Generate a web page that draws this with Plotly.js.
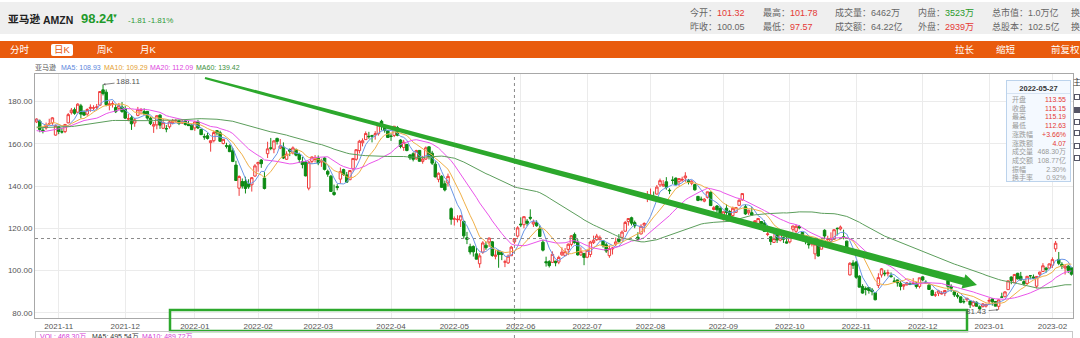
<!DOCTYPE html>
<html><head><meta charset="utf-8">
<script src="https://cdn.plot.ly/plotly-3.0.1.min.js"></script>
<style>
html,body{margin:0;padding:0;background:#fff;width:1080px;height:338px;overflow:hidden;font-family:"Liberation Sans",Arial,"Noto Sans CJK SC",sans-serif;}
#chart{position:absolute;left:0;top:0;width:1080px;height:338px;}
.a{position:absolute;white-space:nowrap;line-height:1;}
#hdr{position:absolute;left:0;top:2px;width:1080px;height:32px;background:#efefef;}
#bar{position:absolute;left:0;top:41px;width:1080px;height:17px;background:#e95b0d;}
.w{color:#fff;font-size:9.5px;}
.s{font-size:9px;color:#666;}
.lg{font-size:7px;}
#tip{position:absolute;left:1006px;top:80px;width:65px;height:102px;border:1px solid #bcd3ec;background:rgba(244,249,255,0.96);box-sizing:border-box;}
#tip .t{position:absolute;left:0;top:3px;width:63px;text-align:center;font-size:7.5px;font-weight:bold;color:#333;}
#tip .ln{position:absolute;left:0;top:12px;width:63px;height:1px;background:#d6e3f2;}
#tip .r{position:absolute;left:5px;width:54px;font-size:7px;line-height:1;}
#tip .r span{position:absolute;right:0;top:0;}
.cb{position:absolute;left:1074px;width:6px;height:6px;border:1px solid #556;box-sizing:border-box;background:#fff;}
</style></head>
<body>
<div id="chart"></div>

<div id="hdr"></div>
<div class="a" style="left:8px;top:14px;font-size:10.7px;font-weight:bold;color:#222;">亚马逊</div>
<div class="a" style="left:43px;top:15px;font-size:10.5px;font-weight:bold;color:#222;">AMZN</div>
<div class="a" style="left:81px;top:12px;font-size:13px;font-weight:bold;color:#1f9a2a;">98.24</div>
<div class="a" style="left:112px;top:13px;font-size:6px;color:#1f9a2a;">▼</div>
<div class="a" style="left:128px;top:17px;font-size:8px;color:#2f9a3a;">-1.81</div>
<div class="a" style="left:148px;top:17px;font-size:8px;color:#2f9a3a;">-1.81%</div>

<div class="a s" style="left:690px;top:9px;">今开：<span style="color:#e53935">101.32</span></div>
<div class="a s" style="left:690px;top:23px;">昨收：100.05</div>
<div class="a s" style="left:763px;top:9px;">最高：<span style="color:#e53935">101.78</span></div>
<div class="a s" style="left:763px;top:23px;">最低：<span style="color:#e53935">97.57</span></div>
<div class="a s" style="left:835px;top:9px;">成交量：6462万</div>
<div class="a s" style="left:835px;top:23px;">成交额：64.22亿</div>
<div class="a s" style="left:918px;top:9px;">内盘：<span style="color:#2a9a2a">3523万</span></div>
<div class="a s" style="left:918px;top:23px;">外盘：<span style="color:#e53935">2939万</span></div>
<div class="a s" style="left:992px;top:9px;">总市值：1.0万亿</div>
<div class="a s" style="left:992px;top:23px;">总股本：102.5亿</div>
<div class="a s" style="left:1071px;top:9px;">换</div>
<div class="a s" style="left:1071px;top:23px;">换</div>

<div id="bar"></div>
<div class="a w" style="left:10px;top:45px;">分时</div>
<div class="a" style="left:51px;top:44px;width:22px;height:12px;background:#fff;border-radius:2px;"></div>
<div class="a" style="left:54px;top:45px;font-size:9.5px;color:#e95b0d;">日K</div>
<div class="a w" style="left:97px;top:45px;">周K</div>
<div class="a w" style="left:140px;top:45px;">月K</div>
<div class="a w" style="left:955px;top:45px;">拉长</div>
<div class="a w" style="left:996px;top:45px;">缩短</div>
<div class="a w" style="left:1051px;top:45px;">前复权</div>

<div class="a lg" style="left:35px;top:64px;color:#555;">亚马逊</div>
<div class="a lg" style="left:61px;top:64px;color:#5b86dc;">MA5: 108.93</div>
<div class="a lg" style="left:104px;top:64px;color:#e4a030;">MA10: 109.29</div>
<div class="a lg" style="left:150px;top:64px;color:#dd44dd;">MA20: 112.09</div>
<div class="a lg" style="left:196px;top:64px;color:#3d8f3d;">MA60: 139.42</div>

<div id="tip"></div>

<div class="a" style="left:1073px;top:79px;font-size:8px;color:#333;">主</div>
<div class="cb" style="top:94px;"></div>
<div class="cb" style="top:107px;background:#556;"></div>
<div class="cb" style="top:119px;"></div>
<div class="cb" style="top:130px;"></div>
<div class="cb" style="top:143px;"></div>
<div class="cb" style="top:155px;"></div>

<div class="a" style="left:35px;top:331px;width:1038px;height:12px;border:1px solid #c8c8c8;box-sizing:border-box;"></div>
<div class="a" style="left:40px;top:333px;font-size:7px;color:#d63cd6;">VOL: 468.30万</div>
<div class="a" style="left:92px;top:333px;font-size:7px;color:#333;">MA5: 495.54万</div>
<div class="a" style="left:142px;top:333px;font-size:7px;color:#d63cd6;">MA10: 489.72万</div>

<script>
// ---- data ----
const monthDays = {
  "2021-10":[21,22,25,26,27,28,29],
  "2021-11":[1,2,3,4,5,8,9,10,11,12,15,16,17,18,19,22,23,24,26,29,30],
  "2021-12":[1,2,3,6,7,8,9,10,13,14,15,16,17,20,21,22,23,27,28,29,30,31],
  "2022-01":[3,4,5,6,7,10,11,12,13,14,18,19,20,21,24,25,26,27,28,31],
  "2022-02":[1,2,3,4,7,8,9,10,11,14,15,16,17,18,22,23,24,25,28],
  "2022-03":[1,2,3,4,7,8,9,10,11,14,15,16,17,18,21,22,23,24,25,28,29,30,31],
  "2022-04":[1,4,5,6,7,8,11,12,13,14,18,19,20,21,22,25,26,27,28,29],
  "2022-05":[2,3,4,5,6,9,10,11,12,13,16,17,18,19,20,23,24,25,26,27,31],
  "2022-06":[1,2,3,6,7,8,9,10,13,14,15,16,17,21,22,23,24,27,28,29,30],
  "2022-07":[1,5,6,7,8,11,12,13,14,15,18,19,20,21,22,25,26,27,28,29],
  "2022-08":[1,2,3,4,5,8,9,10,11,12,15,16,17,18,19,22,23,24,25,26,29,30,31],
  "2022-09":[1,2,6,7,8,9,12,13,14,15,16,19,20,21,22,23,26,27,28,29,30],
  "2022-10":[3,4,5,6,7,10,11,12,13,14,17,18,19,20,21,24,25,26,27,28,31],
  "2022-11":[1,2,3,4,7,8,9,10,11,14,15,16,17,18,21,22,23,25,28,29,30],
  "2022-12":[1,2,5,6,7,8,9,12,13,14,15,16,19,20,21,22,23,27,28,29,30],
  "2023-01":[3,4,5,6,9,10,11,12,13,17,18,19,20,23,24,25,26,27,30,31],
  "2023-02":[1,2,3,6,7,8,9]
};

// closes before the first visible day (for the moving averages)
const priorClose = [
  180.00,166.38,
  166.57,168.31,168.80,168.76,167.25,167.09,166.03,164.61,165.18,164.70,164.80,162.10,160.06,159.39,160.00,163.29,165.29,164.96,165.80,167.48,171.08,173.54,
  173.95,173.16,173.90,175.46,176.28,174.21,173.46,172.86,172.50,173.79,174.41,173.13,167.79,167.18,169.00,170.80,171.28,170.29,165.80,165.06,164.25,
  164.16,159.49,161.05,163.10,165.12,164.43,162.32,162.37,164.21,164.99,170.45,172.34,172.21,170.75
];

const open = [
  170.40,170.80,166.50,167.50,169.45,169.90,164.15,
  168.10,165.75,165.80,169.95,174.80,176.20,175.00,178.00,175.00,174.10,176.80,177.00,177.30,178.30,185.60,184.50,178.20,178.60,177.20,176.80,177.50,
  176.60,171.80,172.40,169.90,173.50,175.90,175.30,175.40,172.20,168.40,169.00,173.60,167.40,167.30,168.10,170.00,170.90,171.00,169.90,170.90,169.30,168.90,
  167.55,170.44,166.88,163.45,163.84,160.58,161.50,166.25,165.25,160.15,159.10,159.10,156.77,149.95,139.00,142.15,142.20,141.06,140.60,144.75,
  150.50,152.35,143.80,155.35,158.10,157.50,162.60,158.00,158.50,152.70,157.40,155.70,157.20,155.00,151.60,151.30,139.00,151.70,152.60,
  153.20,151.40,153.30,147.00,144.70,137.00,139.80,143.30,147.80,145.30,143.00,148.20,152.70,156.80,160.50,162.00,163.60,163.90,164.30,164.80,170.70,168.20,166.20,
  163.70,164.00,167.70,161.80,158.30,159.70,154.70,155.30,152.90,156.90,151.70,152.80,158.60,155.60,150.40,143.20,144.60,141.10,141.50,129.30,
  124.30,124.05,123.90,123.30,115.50,111.30,111.40,107.90,103.20,108.70,112.00,113.50,113.60,106.70,109.40,108.50,104.00,103.60,107.00,113.55,116.30,
  122.00,121.70,123.40,125.20,122.01,122.61,119.99,113.42,104.19,104.19,103.86,104.47,103.99,107.43,107.05,110.00,112.38,117.09,113.50,107.38,108.11,
  106.29,107.60,113.21,114.60,114.60,114.08,112.16,107.03,110.24,112.50,115.00,115.70,118.62,123.20,125.01,122.70,115.79,117.31,121.57,134.90,
  134.96,134.72,136.21,140.58,140.10,142.05,138.05,142.90,143.78,142.05,142.80,143.91,142.69,141.32,140.69,135.10,133.84,132.85,134.64,137.07,128.90,130.57,129.45,
  126.00,129.50,127.94,126.01,127.57,130.91,133.46,130.23,127.36,127.39,122.77,122.22,123.20,122.49,117.08,116.00,113.30,117.20,114.38,115.60,113.58,
  113.58,119.54,118.58,120.77,118.00,115.10,112.71,112.49,107.88,114.10,110.11,119.06,114.71,113.83,114.79,119.98,119.65,116.00,113.92,97.91,103.56,
  103.99,97.32,92.47,91.49,91.95,90.79,89.47,92.94,97.88,98.77,98.49,97.51,95.03,95.54,93.97,92.62,93.24,93.79,93.93,94.04,92.47,
  96.99,94.48,93.05,90.50,88.34,89.24,88.90,89.21,95.23,92.50,89.89,88.27,87.51,85.33,86.18,85.52,83.25,84.97,82.80,82.87,83.12,
  85.46,86.55,85.33,83.03,87.46,87.57,90.93,96.93,94.18,98.68,97.25,94.74,93.86,97.56,96.93,92.56,98.24,99.53,101.09,101.16,
  102.53,110.25,105.26,102.93,101.17,102.04,101.32
];
const high = [
  172.08,171.50,167.80,170.10,171.90,172.65,169.15,
  168.55,167.60,169.40,174.60,177.00,177.20,179.25,178.95,175.90,176.85,178.70,178.30,178.90,185.00,188.11,185.80,180.30,180.20,178.80,179.40,179.80,
  177.90,174.20,173.50,172.30,177.50,177.00,176.80,175.60,172.90,170.40,173.60,174.00,171.80,168.90,171.00,171.80,171.90,171.40,171.70,171.20,170.90,169.40,
  170.70,171.40,167.13,164.80,165.24,161.66,166.35,166.56,166.22,162.25,160.50,159.80,158.00,151.98,145.13,143.60,144.42,143.25,144.20,150.40,
  151.55,152.75,146.61,161.00,162.80,161.70,162.90,162.30,160.70,156.50,157.80,158.80,157.80,155.80,153.80,151.80,151.80,154.00,154.70,
  154.50,153.00,153.70,147.80,145.30,140.70,140.90,148.80,148.20,146.70,147.50,153.20,157.30,161.90,162.60,165.90,165.70,164.30,166.00,169.20,171.40,169.20,166.50,
  165.00,168.40,168.50,162.20,161.90,160.00,155.20,156.00,157.20,157.10,154.30,158.80,158.80,156.70,151.70,146.50,145.20,142.60,145.90,129.90,
  125.60,126.20,126.10,123.60,118.30,112.70,111.90,110.80,108.20,113.90,113.70,115.60,114.00,109.60,109.80,108.90,105.10,107.60,111.70,115.19,121.00,
  125.20,125.60,124.40,128.99,124.10,123.75,121.30,114.50,106.54,104.88,109.06,104.58,107.00,110.99,110.61,112.88,116.71,117.98,114.85,110.99,108.18,
  109.75,114.08,116.52,117.36,116.58,114.30,113.23,111.78,111.18,115.59,117.24,118.95,123.48,124.85,125.50,123.64,118.15,121.90,122.84,137.65,
  138.83,137.44,140.49,143.56,142.86,144.23,138.95,144.60,144.04,143.57,144.43,146.57,143.38,142.77,141.04,135.34,135.01,134.29,137.35,137.43,130.60,131.02,130.59,
  128.02,131.38,128.60,130.29,130.08,133.76,136.49,131.32,128.84,130.00,123.87,124.71,123.45,123.76,118.79,116.05,117.34,118.32,118.70,116.07,116.91,
  116.93,121.20,121.75,121.53,118.17,116.25,115.48,113.83,113.44,114.96,114.19,119.52,116.46,118.08,119.59,120.39,121.32,119.35,114.12,103.96,104.87,
  104.58,97.74,93.50,92.44,92.10,91.72,89.48,98.69,101.19,100.12,100.42,99.10,96.73,95.71,95.02,93.35,94.58,94.43,96.40,94.41,96.54,
  97.23,95.36,94.06,91.04,89.89,90.86,90.30,90.58,96.25,93.46,89.97,89.35,87.63,86.61,87.23,85.68,85.78,85.35,83.48,84.55,84.05,
  86.96,86.98,85.42,86.40,89.48,90.19,95.26,97.19,98.37,98.89,99.32,95.44,97.35,97.78,98.09,97.24,99.49,103.49,101.74,103.35,
  106.24,114.00,108.78,103.95,102.41,102.67,101.78
];
const low = [
  169.85,165.50,164.95,166.70,168.90,169.00,163.90,
  164.60,164.90,165.10,169.70,173.90,173.80,174.60,172.10,173.20,173.30,175.20,176.00,176.50,178.00,182.95,177.80,175.90,177.20,174.60,176.00,174.70,
  171.90,170.70,166.60,168.10,173.10,173.90,173.90,171.40,168.90,165.20,166.90,167.10,167.00,165.50,167.20,169.30,170.20,168.90,169.40,168.70,168.50,166.60,
  166.16,167.00,164.36,161.94,162.03,156.30,160.70,164.00,161.09,159.80,157.80,156.10,151.35,142.50,135.35,138.80,136.50,138.70,137.40,144.43,
  146.80,148.65,138.41,153.30,157.00,155.55,159.70,157.50,152.80,152.40,154.20,155.00,154.10,150.90,148.40,144.60,138.00,150.50,151.20,
  149.90,149.10,147.40,144.40,137.40,135.40,138.00,141.20,144.90,141.50,142.90,146.90,152.00,155.50,158.80,161.90,162.40,160.70,162.00,163.90,166.40,165.30,162.90,
  161.40,163.20,163.60,157.90,156.70,156.50,152.40,151.70,152.50,151.50,150.60,152.40,152.60,150.00,144.10,141.80,139.30,137.50,139.80,121.70,
  121.30,122.80,120.60,115.20,112.50,107.60,106.60,105.30,101.30,107.90,109.80,111.20,106.50,105.30,101.30,104.90,101.60,103.10,106.90,112.63,115.60,
  120.60,120.00,121.00,123.81,120.63,120.75,116.10,109.05,101.86,101.43,103.53,102.01,103.00,106.91,106.80,107.30,111.43,112.70,107.04,106.91,102.52,
  105.85,106.32,112.56,114.00,114.33,110.87,108.34,106.01,107.58,111.59,113.15,114.03,118.32,121.26,121.35,120.03,114.53,117.16,118.08,132.41,
  133.51,134.09,136.05,139.55,139.60,138.29,136.21,141.01,140.50,140.09,142.04,142.00,140.78,140.38,137.86,132.86,132.85,132.33,134.09,130.57,128.44,127.58,126.74,
  123.66,126.39,124.62,125.23,127.30,130.70,133.12,126.37,126.33,126.00,120.70,121.80,120.44,118.45,116.26,112.06,113.13,113.05,113.80,113.06,112.84,
  112.84,118.37,117.69,119.50,113.88,112.43,110.39,111.40,105.35,106.60,110.08,114.79,113.74,113.27,114.50,116.57,118.95,114.76,109.77,97.66,100.74,
  96.06,92.01,89.02,88.25,89.04,88.23,85.87,91.65,96.66,97.29,97.20,96.61,94.26,92.36,90.59,90.87,92.83,93.07,93.43,91.44,91.53,
  94.92,93.78,90.82,87.90,87.48,87.88,88.63,87.87,90.52,89.87,87.47,86.73,84.51,84.33,85.21,82.25,82.93,83.00,81.69,82.55,82.47,
  84.21,83.36,83.07,81.43,87.08,87.29,90.93,93.50,94.12,95.73,95.38,92.86,93.20,95.86,96.00,91.52,96.92,99.53,99.01,101.14,
  101.24,108.88,102.52,100.65,98.08,98.78,97.57
];
const close = [
  171.75,166.78,166.02,168.80,169.62,172.33,168.62,
  165.91,165.64,169.20,173.85,175.95,174.45,178.81,174.10,173.63,176.26,177.28,177.04,177.45,184.80,183.83,178.63,179.00,179.02,175.23,178.08,175.35,
  172.19,171.87,169.49,171.37,176.16,176.16,174.17,172.21,169.57,169.09,173.32,168.87,170.02,167.08,170.42,171.04,171.07,169.67,170.66,169.20,168.64,166.72,
  170.40,167.52,164.36,163.25,162.55,161.49,165.36,165.21,161.21,162.14,158.92,156.30,151.67,142.64,144.54,139.99,138.87,139.64,143.98,149.57,
  151.19,150.61,138.85,157.64,157.94,161.41,161.19,159.00,153.29,155.17,156.51,158.10,154.65,152.60,150.20,144.83,151.36,153.79,153.56,
  150.93,152.05,147.90,145.64,137.45,136.01,139.28,146.82,145.52,141.85,147.37,153.10,157.24,161.25,161.49,164.89,163.41,163.65,164.77,168.99,169.32,166.30,163.00,
  163.56,168.35,164.06,158.76,160.79,156.83,153.36,152.68,156.84,151.74,152.79,158.12,154.00,150.85,144.35,146.07,139.39,138.17,144.60,124.28,
  124.50,124.25,125.93,116.41,114.77,108.79,108.86,105.37,106.93,113.06,110.81,115.37,107.11,107.32,107.59,107.56,104.10,106.78,111.08,115.15,120.21,
  121.68,125.51,122.35,124.79,123.00,121.18,116.15,109.65,103.67,102.31,107.67,103.66,106.22,108.68,108.95,112.44,116.46,113.22,107.40,108.92,106.21,
  109.56,113.50,114.33,116.33,115.54,111.75,109.22,110.40,110.63,113.55,113.76,118.21,122.77,124.63,122.42,121.14,114.81,120.97,122.28,134.95,
  135.39,134.16,139.52,142.57,140.80,139.41,137.83,142.69,140.64,143.55,143.18,144.78,142.10,142.30,138.23,133.22,133.62,133.80,137.28,130.75,129.79,128.73,126.77,
  127.82,127.51,126.11,129.48,129.82,133.27,136.45,126.82,128.55,126.28,123.53,124.66,122.19,118.54,117.31,113.78,115.15,114.41,118.01,114.80,113.00,
  115.88,121.09,120.95,120.30,114.56,113.67,112.21,112.90,112.53,106.90,113.79,116.36,115.07,115.25,119.32,119.82,120.60,115.66,110.96,103.41,102.44,
  96.79,92.12,89.30,90.98,90.53,89.98,86.14,96.63,100.79,98.49,98.94,97.12,94.85,94.14,92.46,93.20,94.13,93.41,93.95,92.42,96.54,
  95.50,94.13,91.01,88.25,88.46,90.35,89.09,90.55,92.49,91.58,88.45,87.86,84.92,85.19,86.77,83.79,85.25,83.04,81.82,84.18,84.00,
  85.82,85.14,83.12,86.08,87.36,89.87,95.09,95.27,98.12,96.05,95.46,93.68,97.25,97.52,96.32,97.18,99.22,102.24,100.55,103.13,
  105.15,112.91,103.39,102.18,102.11,100.05,98.24
];
const yTicks = [80,100,120,140,160,180];
const hoverDate = "2022-05-27";
const tipVolume = "468.30万", tipAmount = "108.77亿", tipTurnover = "0.92%";

// ---- build ----
const dates = [], tickvals = [], ticktext = [];
Object.keys(monthDays).forEach((m, k) => {
  monthDays[m].forEach((d, j) => {
    const s = m + "-" + String(d).padStart(2, "0");
    dates.push(s);
    if (j === 0 && k > 0) { tickvals.push(s); ticktext.push(m); }
  });
});
const N = dates.length;
const allClose = priorClose.concat(close);
function ma(n) {
  return close.map((_, i) => {
    const j = i + priorClose.length; let s = 0;
    for (let k = j - n + 1; k <= j; k++) s += allClose[k];
    return s / n;
  });
}

const traces = [
  {type:'candlestick', x:dates, open:open, high:high, low:low, close:close,
   increasing:{line:{color:'#f03c3c', width:1}, fillcolor:'#ffffff'},
   decreasing:{line:{color:'#0c8a14', width:1}, fillcolor:'#0c8a14'},
   whiskerwidth:0, hoverinfo:'none'},
  {type:'scatter', mode:'lines', x:dates, y:ma(5), line:{color:'#6a96e6', width:1}, hoverinfo:'skip'},
  {type:'scatter', mode:'lines', x:dates, y:ma(10), line:{color:'#f0b048', width:1}, hoverinfo:'skip'},
  {type:'scatter', mode:'lines', x:dates, y:ma(20), line:{color:'#ea55ea', width:1}, hoverinfo:'skip'},
  {type:'scatter', mode:'lines', x:dates, y:ma(60), line:{color:'#5c9e5c', width:1}, hoverinfo:'skip'}
];

// pixel -> paper helpers (plot area spans x 35..1073, y 74..318)
const PL = 35, PR = 1073, PT = 74, PB = 318;
const px = v => (v - PL) / (PR - PL), py = v => (PB - v) / (PB - PT);

// hand-drawn style trend arrow
function arrowPath() {
  const S = [205, 78], T = [977, 285];
  const dx = T[0] - S[0], dy = T[1] - S[1], L = Math.hypot(dx, dy);
  const u = [dx / L, dy / L], n = [-u[1], u[0]];
  const E = [T[0] - 14 * u[0], T[1] - 14 * u[1]];
  const up = [], dn = [];
  for (let i = 0; i <= 24; i++) {
    const t = i / 24, h = 1.1 + 2.6 * Math.pow(t, 0.7);
    const cx = S[0] + (E[0] - S[0]) * t, cy = S[1] + (E[1] - S[1]) * t;
    up.push([cx + n[0] * h, cy + n[1] * h]);
    dn.push([cx - n[0] * h, cy - n[1] * h]);
  }
  const pts = up.concat([[E[0] + n[0] * 7.5, E[1] + n[1] * 7.5], T, [E[0] - n[0] * 7.5, E[1] - n[1] * 7.5]]).concat(dn.reverse());
  return pts.map((p, i) => (i ? 'L' : 'M') + px(p[0]).toFixed(5) + ',' + py(p[1]).toFixed(5)).join(' ') + ' Z';
}

const hi = dates.indexOf(hoverDate);
const iMax = dates.indexOf("2021-11-19"), iMin = dates.indexOf("2023-01-06");

const layout = {
  width:1080, height:338,
  margin:{l:PL, r:1080 - PR, t:PT, b:338 - PB, pad:0},
  paper_bgcolor:'rgba(0,0,0,0)', plot_bgcolor:'#ffffff',
  showlegend:false, boxgap:0.18, boxgroupgap:0.05,
  font:{family:'Liberation Sans, Arial, Noto Sans CJK SC, sans-serif', size:8, color:'#555'},
  xaxis:{type:'category', range:[-0.5, N - 0.5], tickvals:tickvals, ticktext:ticktext,
         showgrid:true, gridcolor:'#ebebeb', gridwidth:1, showline:true, linecolor:'#a8a8a8', mirror:true,
         ticks:'', tickfont:{size:8, color:'#555'}, rangeslider:{visible:false}, fixedrange:true, zeroline:false},
  yaxis:{range:[77.5, 193.1], tickvals:yTicks, ticktext:yTicks.map(v => v.toFixed(2)),
         showgrid:true, gridcolor:'#ebebeb', showline:true, linecolor:'#a8a8a8', mirror:true,
         ticks:'', tickfont:{size:8, color:'#555'}, fixedrange:true, zeroline:false},
  shapes:[
    {type:'line', xref:'x', yref:'paper', x0:hi, x1:hi, y0:py(338), y1:1, line:{color:'#8a8a8a', width:1, dash:'dot'}},
    {type:'line', xref:'paper', yref:'y', x0:0, x1:1, y0:close[hi], y1:close[hi], line:{color:'#8a8a8a', width:1, dash:'dot'}},
    {type:'path', xref:'paper', yref:'paper', path:arrowPath(), fillcolor:'#2ca82c', line:{width:0}},
    {type:'rect', xref:'paper', yref:'paper', x0:px(170), x1:px(967), y0:py(331), y1:py(310), line:{color:'#2ca82c', width:2.5}}
  ],
  annotations:[
    {x:iMax, y:high[iMax], xref:'x', yref:'y', text:high[iMax].toFixed(2), showarrow:true, ax:25, ay:-3,
     arrowhead:2, arrowsize:0.6, arrowwidth:0.8, arrowcolor:'#666', font:{size:8, color:'#555'}},
    {x:iMin, y:low[iMin], xref:'x', yref:'y', text:low[iMin].toFixed(2), showarrow:true, ax:-22, ay:2,
     arrowhead:2, arrowsize:0.6, arrowwidth:0.8, arrowcolor:'#666', font:{size:8, color:'#555'}}
  ]
};

Plotly.newPlot('chart', traces, layout, {staticPlot:true, displayModeBar:false});

// tooltip box built from the hovered day
const pc = close[hi - 1];
const rows = [
  ['开盘', open[hi].toFixed(2), '#e53935'],
  ['收盘', close[hi].toFixed(2), '#e53935'],
  ['最高', high[hi].toFixed(2), '#e53935'],
  ['最低', low[hi].toFixed(2), '#e53935'],
  ['涨跌幅', (close[hi] >= pc ? '+' : '') + ((close[hi] - pc) / pc * 100).toFixed(2) + '%', '#e53935'],
  ['涨跌额', (close[hi] - pc).toFixed(2), '#e53935'],
  ['成交量', tipVolume, '#999'],
  ['成交额', tipAmount, '#999'],
  ['振幅', ((high[hi] - low[hi]) / pc * 100).toFixed(2) + '%', '#999'],
  ['换手率', tipTurnover, '#999']
];
const tip = document.getElementById('tip');
let html = '<div class="t">' + hoverDate + '</div><div class="ln"></div>';
rows.forEach((r, i) => {
  html += '<div class="r" style="top:' + (15 + i * 8.7).toFixed(1) + 'px;color:#999;">' + r[0] +
          '<span style="color:' + r[2] + '">' + r[1] + '</span></div>';
});
tip.innerHTML = html;
</script>
</body></html>
